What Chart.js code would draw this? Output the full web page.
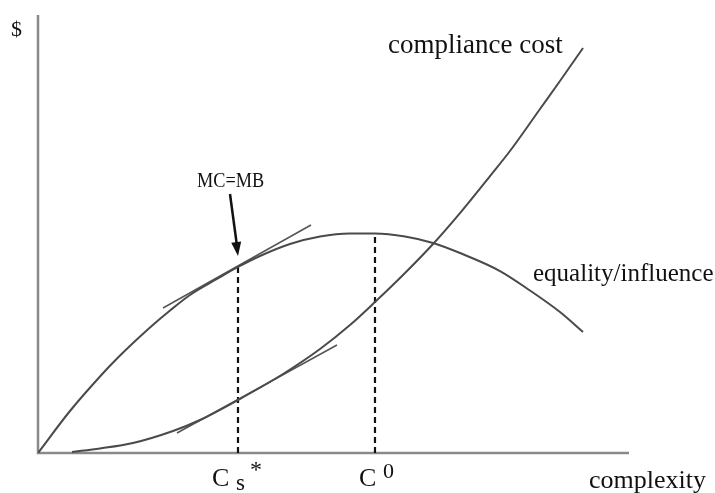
<!DOCTYPE html>
<html>
<head>
<meta charset="utf-8">
<script src="https://cdn.jsdelivr.net/npm/chart.js@4.4.1/dist/chart.umd.min.js"></script>
<style>
html,body{margin:0;padding:0;background:#fff;}
#wrap{width:715px;height:493px;position:relative;}
</style>
</head>
<body>
<div id="wrap"><canvas id="c" width="715" height="493"></canvas></div>
<script>
// complexity (x) and $ (y) in arbitrary units 0..100
const benefitX = [0, 5.41, 10.49, 13.54, 18.95, 22.34, 25.72, 30.29, 33.84, 37.56, 42.64, 47.72, 52.79, 57.02, 62.10, 66.84, 71.40, 78.17, 83.25, 88.32, 92.22];
const benefitY = [0, 9.59, 17.47, 21.80, 28.65, 32.53, 36.07, 39.73, 42.47, 44.98, 47.72, 49.43, 50.11, 50.11, 49.43, 47.95, 45.66, 41.55, 37.10, 32.19, 27.63];
const costX = [5.75, 10.49, 16.07, 22.84, 27.41, 33.84, 41.46, 47.72, 52.79, 57.02, 62.10, 66.84, 71.40, 76.48, 79.86, 84.94, 88.32, 92.22];
const costY = [0.23, 1.03, 2.28, 5.02, 7.53, 12.10, 18.04, 23.74, 29.22, 34.47, 41.10, 47.72, 54.79, 63.24, 68.95, 78.54, 84.93, 92.47];
const tangentBenefitX = [21.15, 46.19];
const tangentBenefitY = [33.11, 52.05];
const tangentCostX = [23.52, 50.59];
const tangentCostY = [4.57, 24.66];
const csStar = 33.84;   // optimal complexity
const c0 = 57.02;       // peak benefit complexity
const csStarBenefit = 42.47;
const c0Benefit = 50.11;
const tickLabels = ["Cs*", "C0"];
const curveLabels = ["compliance cost", "equality/influence"];
const axisLabels = ["$", "complexity"];
const annotationText = "MC=MB";

const pts = (xs, ys) => xs.map((x, i) => ({x: x, y: ys[i]}));

const SERIF = "'Liberation Serif','Times New Roman',serif";

const decor = {
  id: 'decor',
  beforeDatasetsDraw(chart) {
    const ctx = chart.ctx, a = chart.chartArea;
    ctx.save();
    ctx.strokeStyle = '#8a8a8a';
    ctx.lineWidth = 2.5;
    ctx.beginPath();
    ctx.moveTo(a.left, a.top);
    ctx.lineTo(a.left, a.bottom);
    ctx.lineTo(a.right, a.bottom);
    ctx.stroke();
    ctx.restore();
  },
  afterDatasetsDraw(chart) {
    const ctx = chart.ctx, a = chart.chartArea;
    const xs = chart.scales.x, ys = chart.scales.y;
    ctx.save();
    ctx.fillStyle = '#111';
    ctx.textBaseline = 'alphabetic';
    ctx.textAlign = 'left';
    // $ label
    ctx.font = '22px ' + SERIF;
    ctx.fillText(axisLabels[0], 11, 36);
    // complexity
    ctx.font = '26px ' + SERIF;
    ctx.fillText(axisLabels[1], 589, 488);
    // curve labels
    ctx.font = '27px ' + SERIF;
    ctx.fillText(curveLabels[0], 388, 53);
    ctx.font = '25px ' + SERIF;
    ctx.fillText(curveLabels[1], 533, 281);
    // tick labels
    const px1 = xs.getPixelForValue(csStar);
    const px2 = xs.getPixelForValue(c0);
    ctx.font = '26px ' + SERIF;
    ctx.fillText(tickLabels[0][0], px1 - 26, 486);
    ctx.font = '23px ' + SERIF;
    ctx.fillText(tickLabels[0][1], px1 - 2, 490);
    ctx.font = '24px ' + SERIF;
    ctx.fillText(tickLabels[0][2], px1 + 12, 477);
    ctx.font = '26px ' + SERIF;
    ctx.fillText(tickLabels[1][0], px2 - 16, 486);
    ctx.font = '22px ' + SERIF;
    ctx.fillText(tickLabels[1][1], px2 + 8, 478);
    // MC=MB, condensed
    ctx.save();
    ctx.font = '22px ' + SERIF;
    ctx.translate(197, 187);
    ctx.scale(0.83, 1);
    ctx.fillText(annotationText, 0, 0);
    ctx.restore();
    // arrow
    const tipX = xs.getPixelForValue(csStar);
    const tipY = ys.getPixelForValue(csStarBenefit) - 11;
    const tailX = tipX - 8, tailY = 194;
    ctx.strokeStyle = '#111';
    ctx.lineWidth = 2.5;
    ctx.beginPath();
    ctx.moveTo(tailX, tailY);
    ctx.lineTo(tipX - 1, tipY - 10);
    ctx.stroke();
    const ang = Math.atan2(tipY - tailY, tipX - tailX);
    ctx.beginPath();
    ctx.moveTo(tipX, tipY);
    ctx.lineTo(tipX - 14 * Math.cos(ang) + 5 * Math.sin(ang), tipY - 14 * Math.sin(ang) - 5 * Math.cos(ang));
    ctx.lineTo(tipX - 14 * Math.cos(ang) - 5 * Math.sin(ang), tipY - 14 * Math.sin(ang) + 5 * Math.cos(ang));
    ctx.closePath();
    ctx.fillStyle = '#111';
    ctx.fill();
    ctx.restore();
  }
};

new Chart(document.getElementById('c'), {
  type: 'scatter',
  data: {
    datasets: [
      { data: pts(benefitX, benefitY), showLine: true, borderColor: '#4a4a4a', borderWidth: 2, cubicInterpolationMode: 'monotone', pointRadius: 0 },
      { data: pts(costX, costY), showLine: true, borderColor: '#4a4a4a', borderWidth: 2, cubicInterpolationMode: 'monotone', pointRadius: 0 },
      { data: pts(tangentBenefitX, tangentBenefitY), showLine: true, borderColor: '#555', borderWidth: 1.5, tension: 0, pointRadius: 0 },
      { data: pts(tangentCostX, tangentCostY), showLine: true, borderColor: '#555', borderWidth: 1.5, tension: 0, pointRadius: 0 },
      { data: [{x: csStar, y: 0}, {x: csStar, y: csStarBenefit}], showLine: true, borderColor: '#111', borderWidth: 2.2, borderDash: [6, 4], pointRadius: 0 },
      { data: [{x: c0, y: 0}, {x: c0, y: c0Benefit}], showLine: true, borderColor: '#111', borderWidth: 2.2, borderDash: [6, 4], pointRadius: 0 }
    ]
  },
  options: {
    responsive: false,
    animation: false,
    layout: { padding: { left: 38, right: 86, top: 15, bottom: 40 } },
    plugins: { legend: { display: false }, tooltip: { enabled: false } },
    scales: {
      x: { type: 'linear', min: 0, max: 100, display: false },
      y: { type: 'linear', min: 0, max: 100, display: false }
    }
  },
  plugins: [decor]
});
</script>
</body>
</html>
